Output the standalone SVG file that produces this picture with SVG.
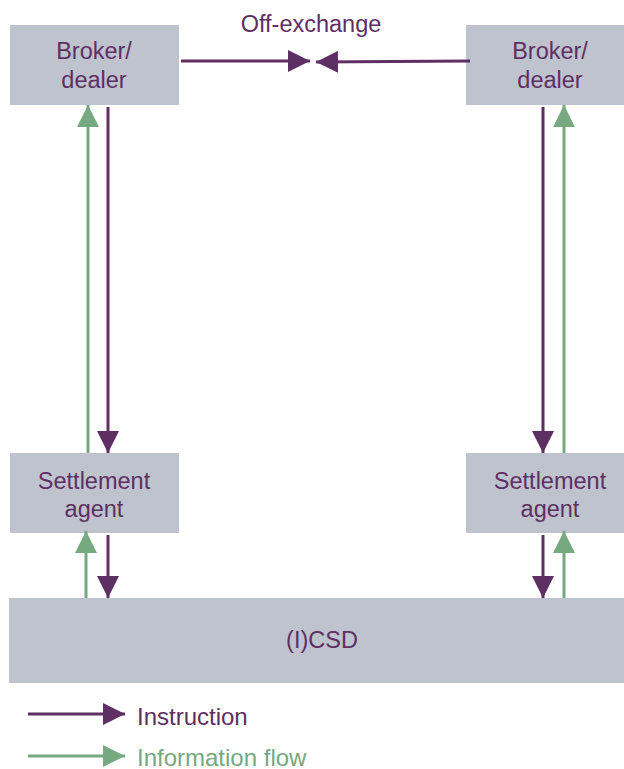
<svg xmlns="http://www.w3.org/2000/svg" width="624" height="769" viewBox="0 0 624 769">
  <style>
    .box { fill: #bec3ce; }
    .lbl { font-family: "Liberation Sans", Arial, sans-serif; font-size: 23.5px; fill: #5e2f63; text-anchor: middle; }
    .key { font-family: "Liberation Sans", Arial, sans-serif; font-size: 24px; }
    .ins { stroke: #5e2f63; stroke-width: 3; fill: none; }
    .inf { stroke: #76a97f; stroke-width: 3; fill: none; }
  </style>
  <defs>
    <marker id="headIns" markerUnits="userSpaceOnUse" markerWidth="22" markerHeight="22" viewBox="0 0 20 20" refX="20" refY="10" orient="auto">
      <path d="M0,0 L20,10 L0,20 Z" fill="#5e2f63"/>
    </marker>
    <marker id="headInf" markerUnits="userSpaceOnUse" markerWidth="22" markerHeight="22" viewBox="0 0 20 20" refX="20" refY="10" orient="auto">
      <path d="M0,0 L20,10 L0,20 Z" fill="#76a97f"/>
    </marker>
  </defs>

  <rect width="624" height="769" fill="#ffffff"/>

  <text class="lbl" x="311" y="32">Off-exchange</text>

  <g id="broker-left">
    <rect class="box" x="10" y="25" width="169" height="80"/>
    <text class="lbl" x="94" y="59">Broker/</text>
    <text class="lbl" x="94" y="88">dealer</text>
  </g>
  <g id="broker-right">
    <rect class="box" x="466" y="25" width="158" height="80"/>
    <text class="lbl" x="550" y="59">Broker/</text>
    <text class="lbl" x="550" y="88">dealer</text>
  </g>
  <g id="settlement-left">
    <rect class="box" x="10" y="453" width="169" height="80"/>
    <text class="lbl" x="94" y="489">Settlement</text>
    <text class="lbl" x="94" y="517">agent</text>
  </g>
  <g id="settlement-right">
    <rect class="box" x="466" y="453" width="158" height="80"/>
    <text class="lbl" x="550" y="489">Settlement</text>
    <text class="lbl" x="550" y="517">agent</text>
  </g>
  <g id="csd">
    <rect class="box" x="9" y="598" width="615" height="85"/>
    <text class="lbl" x="322" y="648">(I)CSD</text>
  </g>

  <g id="connectors">
    <!-- off-exchange -->
    <line class="ins" x1="181" y1="61" x2="310" y2="61" marker-end="url(#headIns)"/>
    <line class="ins" x1="470" y1="61" x2="316" y2="62" marker-end="url(#headIns)"/>
    <!-- left column -->
    <line class="inf" x1="88" y1="453" x2="88" y2="105" marker-end="url(#headInf)"/>
    <line class="ins" x1="108" y1="107" x2="108" y2="453" marker-end="url(#headIns)"/>
    <line class="inf" x1="86" y1="598" x2="86" y2="531" marker-end="url(#headInf)"/>
    <line class="ins" x1="108" y1="535" x2="108" y2="598" marker-end="url(#headIns)"/>
    <!-- right column -->
    <line class="ins" x1="543" y1="107" x2="543" y2="453" marker-end="url(#headIns)"/>
    <line class="inf" x1="564" y1="453" x2="564" y2="105" marker-end="url(#headInf)"/>
    <line class="ins" x1="543" y1="535" x2="543" y2="598" marker-end="url(#headIns)"/>
    <line class="inf" x1="564" y1="598" x2="564" y2="531" marker-end="url(#headInf)"/>
  </g>

  <g id="legend">
    <line class="ins" x1="28" y1="714" x2="125" y2="714" marker-end="url(#headIns)"/>
    <text class="key" x="137" y="725" fill="#5e2f63">Instruction</text>
    <line class="inf" x1="28" y1="756" x2="125" y2="756" marker-end="url(#headInf)"/>
    <text class="key" x="137" y="766" fill="#76a97f">Information flow</text>
  </g>
</svg>
